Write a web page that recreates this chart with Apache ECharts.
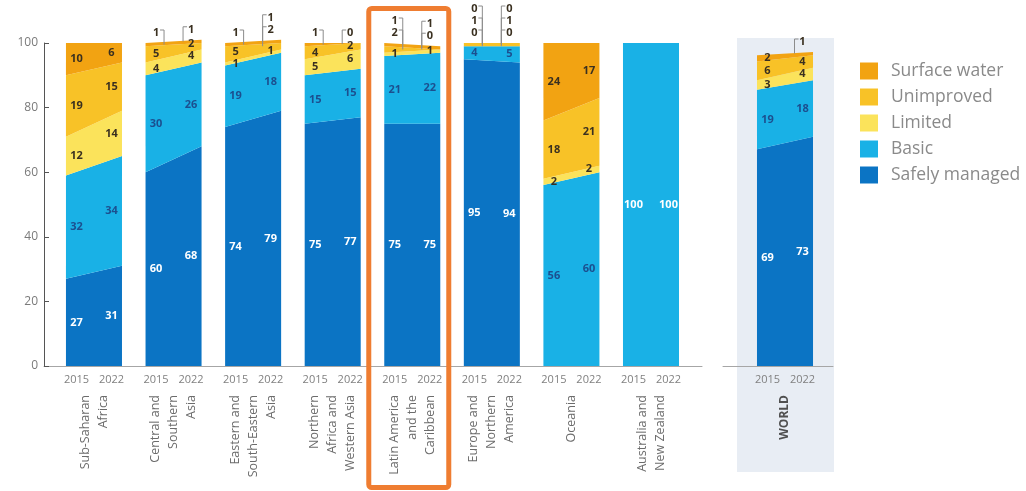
<!DOCTYPE html>
<html>
<head>
<meta charset="utf-8">
<script src="https://cdn.jsdelivr.net/npm/echarts@6/dist/echarts.min.js"></script>
<style>
  html, body { margin: 0; padding: 0; background: #ffffff; }
  #chart { width: 1026px; height: 491px; }
</style>
</head>
<body>
<div id="chart"></div>
<script>
// Regions (SDG drinking water ladder), WORLD is kept in its own panel
const regions = [
  'Sub-Saharan\nAfrica',
  'Central and\nSouthern\nAsia',
  'Eastern and\nSouth-Eastern\nAsia',
  'Northern\nAfrica and\nWestern Asia',
  'Latin America\nand the\nCaribbean',
  'Europe and\nNorthern\nAmerica',
  'Oceania',
  'Australia and\nNew Zealand'
];
const worldName = 'WORLD';
const years = ['2015', '2022'];

// Service levels, bottom of the stack first
const levels = ['Safely managed', 'Basic', 'Limited', 'Unimproved', 'Surface water'];
const legendOrder = ['Surface water', 'Unimproved', 'Limited', 'Basic', 'Safely managed'];

// Percentages per region (last entry = WORLD); null = no estimate
const safely2015     = [27, 60, 74, 75, 75, 95, null, null, 69];
const safely2022     = [31, 68, 79, 77, 75, 94, null, null, 73];
const basic2015      = [32, 30, 19, 15, 21, 4, 56, 100, 19];
const basic2022      = [34, 26, 18, 15, 22, 5, 60, 100, 18];
const limited2015    = [12, 4, 1, 5, 1, 0, 2, null, 3];
const limited2022    = [14, 4, 1, 6, 1, 0, 2, null, 4];
const unimproved2015 = [19, 5, 5, 4, 2, 1, 18, null, 6];
const unimproved2022 = [15, 2, 2, 2, 0, 1, 21, null, 4];
const surface2015    = [10, 1, 1, 1, 1, 0, 24, null, 2];
const surface2022    = [6, 1, 1, 0, 1, 0, 17, null, 1];

const values = {
  'Safely managed': [safely2015, safely2022],
  'Basic': [basic2015, basic2022],
  'Limited': [limited2015, limited2022],
  'Unimproved': [unimproved2015, unimproved2022],
  'Surface water': [surface2015, surface2022]
};
const colors = {
  'Safely managed': '#0B74C4',
  'Basic': '#19B1E6',
  'Limited': '#FBE35B',
  'Unimproved': '#F8C227',
  'Surface water': '#F2A312'
};

const WORLD = regions.length;   // index of WORLD in the value arrays
const HALF = 0.352;             // half width of a region block (axis units)
const LABEL_OFF = 0.22;         // offset of the 2015 / 2022 columns from the block centre
const GAP = 12;                 // minimum vertical distance between labels (px)

// stacked bases for one region and one level
function stackRow(r, level) {
  const li = levels.indexOf(level);
  const b = [0, 0];
  for (let k = 0; k < li; k++) {
    for (let s = 0; s < 2; s++) {
      const v = values[levels[k]][s][r];
      if (v != null) b[s] += v;
    }
  }
  return b;
}

function areaData(indices, posOf) {
  return function (level) {
    const out = [];
    indices.forEach(r => {
      const v0 = values[level][0][r], v1 = values[level][1][r];
      if (v0 == null && v1 == null) return;
      const b = stackRow(r, level);
      out.push([posOf(r), v0 || 0, v1 || 0, b[0], b[1]]);
    });
    return out;
  };
}

function renderArea(params, api) {
  const pos = api.value(0);
  const v0 = api.value(1), v1 = api.value(2), b0 = api.value(3), b1 = api.value(4);
  const xl = pos - HALF, xr = pos + HALF;
  return {
    type: 'polygon',
    shape: { points: [api.coord([xl, b0]), api.coord([xl, b0 + v0]), api.coord([xr, b1 + v1]), api.coord([xr, b1])] },
    style: { fill: api.visual('color') }
  };
}

function labelColor(level, v) {
  if (level === 'Safely managed') return '#ffffff';
  if (level === 'Basic') return v >= 100 ? '#ffffff' : '#1c4f8f';
  return '#3a3020';
}

function renderLabels(params, api) {
  const pos = api.value(0), r = api.value(1);
  const children = [];
  [0, 1].forEach(s => {
    const dir = s ? 1 : -1;
    const x = pos + dir * LABEL_OFF;
    const px = api.coord([x, 0])[0];
    let total = 0;
    levels.forEach(l => { const v = values[l][s][r]; if (v != null) total += v; });
    const topY = api.coord([x, total])[1];
    let base = 0, prevY = Infinity;
    levels.forEach(l => {
      const v = values[l][s][r];
      if (v == null) return;
      const midY = api.coord([x, base + v / 2])[1];
      base += v;
      let y = Math.min(midY, prevY - GAP);
      const outside = y < topY + 1;
      if (outside) y = Math.min(y, topY - 10);
      prevY = y;
      children.push({
        type: 'text', x: px, y: y,
        style: {
          text: String(v), fill: labelColor(l, v),
          fontFamily: 'Open Sans', fontSize: 11, fontWeight: 'bold',
          align: 'center', verticalAlign: 'middle'
        }
      });
      if (outside) {
        // small bracket from the label down to the top of the stack
        const hx = px - dir * 4, vx = px - dir * 8;
        children.push({
          type: 'polyline',
          shape: { points: [[hx, y - 3], [vx, y - 3], [vx, Math.max(midY, topY + 1)]] },
          style: { stroke: '#8c8c8c', lineWidth: 1, fill: null }
        });
      }
    });
  });
  return { type: 'group', children: children };
}

const regionIdx = regions.map((_, i) => i);
const mainData = areaData(regionIdx, r => r);
const worldData = areaData([WORLD], () => 0);

const series = [];
levels.forEach(level => {
  series.push({
    name: level, type: 'custom', xAxisIndex: 0, yAxisIndex: 0,
    itemStyle: { color: colors[level] }, renderItem: renderArea,
    data: mainData(level), clip: false, silent: true
  });
  series.push({
    name: level, type: 'custom', xAxisIndex: 2, yAxisIndex: 1,
    itemStyle: { color: colors[level] }, renderItem: renderArea,
    data: worldData(level), clip: false, silent: true
  });
});
series.push({
  name: 'labels', type: 'custom', xAxisIndex: 0, yAxisIndex: 0, z: 5,
  renderItem: renderLabels, data: regionIdx.map(i => [i, i]), clip: false, silent: true
});
series.push({
  name: 'labels', type: 'custom', xAxisIndex: 2, yAxisIndex: 1, z: 5,
  renderItem: renderLabels, data: [[0, WORLD]], clip: false, silent: true
});

// axis extents: one region per unit
const X0 = [-0.628, 7.641];
const X1 = [-0.779, 0.603];

const yearTicks0 = [];
regionIdx.forEach(i => { yearTicks0.push(i - LABEL_OFF, i + LABEL_OFF); });
const yearFmt = v => (v < Math.round(v) ? years[0] : years[1]);

function yearAxis(grid, ext, ticks) {
  return {
    type: 'value', gridIndex: grid, position: 'bottom', min: ext[0], max: ext[1],
    axisLine: { show: true, onZero: false, lineStyle: { color: '#a6a6a6', width: 1 } },
    axisTick: { show: false }, splitLine: { show: false },
    axisLabel: { customValues: ticks, formatter: yearFmt, color: '#808080',
                 fontFamily: 'Open Sans', fontSize: 11, margin: 8 }
  };
}
function nameAxis(grid, ext, ticks, fmt, extra) {
  return {
    type: 'value', gridIndex: grid, position: 'bottom', min: ext[0], max: ext[1],
    axisLine: { show: false, onZero: false }, axisTick: { show: false }, splitLine: { show: false },
    axisLabel: Object.assign({ customValues: ticks, formatter: fmt, rotate: 90, margin: 29,
                 color: '#6c6c6c', fontFamily: 'Open Sans', fontSize: 12.5, lineHeight: 18 }, extra || {})
  };
}

const chart = echarts.init(document.getElementById('chart'), null, { renderer: 'canvas' });
const panel = { id: 'panel', type: 'rect', z: -10, shape: { x: 737, y: 38, width: 97, height: 434 },
                style: { fill: '#e8edf4' } };

chart.setOption({
  backgroundColor: '#ffffff',
  animation: false,
  grid: [
    { left: 44, top: 43, width: 658, height: 323, outerBoundsMode: 'none', containLabel: false },
    { left: 723, top: 52, width: 110, height: 314, outerBoundsMode: 'none', containLabel: false }
  ],
  xAxis: [
    yearAxis(0, X0, yearTicks0),
    nameAxis(0, X0, regionIdx, v => regions[Math.round(v)]),
    yearAxis(1, X1, [-LABEL_OFF, LABEL_OFF]),
    nameAxis(1, X1, [0], () => worldName, { fontWeight: 'bold', color: '#505050', fontSize: 12 })
  ],
  yAxis: [
    { type: 'value', gridIndex: 0, min: 0, max: 100, interval: 20,
      axisLine: { show: true, onZero: false, lineStyle: { color: '#555555', width: 1 } },
      axisTick: { show: true, inside: true, length: 5, lineStyle: { color: '#555555' } },
      axisLabel: { color: '#7a7a7a', fontFamily: 'Open Sans', fontSize: 12, margin: 6 },
      splitLine: { show: false } },
    { type: 'value', gridIndex: 1, min: 0, max: 100, interval: 20, show: false }
  ],
  legend: {
    orient: 'vertical', left: 860, top: 62, padding: 0, itemWidth: 18, itemHeight: 17, itemGap: 8,
    icon: 'rect', selectedMode: false, data: legendOrder,
    textStyle: { color: '#8a8a8a', fontFamily: 'Open Sans', fontSize: 17.5, lineHeight: 17, padding: [0, 0, 0, 8] }
  },
  graphic: [panel],
  series: series
});

// highlight frame around Latin America and the Caribbean
const cx = chart.convertToPixel({ xAxisIndex: 0 }, 4);
chart.setOption({
  graphic: [panel, {
    id: 'focus', type: 'rect', z: 20,
    shape: { x: cx - 43.5, y: 8.5, width: 80, height: 479, r: 3 },
    style: { fill: null, stroke: '#EF7D31', lineWidth: 5 }
  }]
});
</script>
</body>
</html>
